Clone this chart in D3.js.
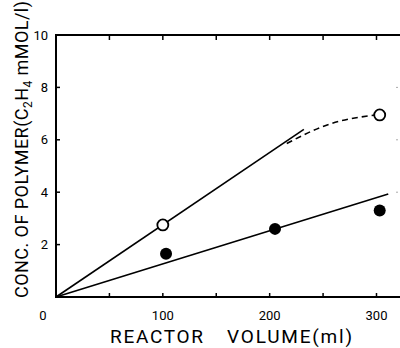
<!DOCTYPE html>
<html>
<head>
<meta charset="utf-8">
<script src="https://cdn.jsdelivr.net/npm/d3@7"></script>
<style>
  body { margin: 0; background: #fff; }
  text { font-family: Roboto, "DejaVu Sans", sans-serif; fill: #000; }
</style>
</head>
<body>
<svg id="chart" width="400" height="348"></svg>
<script>
// values
const openPts = [[100, 2.75], [303, 6.95]];
const filledPts = [[103, 1.65], [205, 2.6], [303, 3.3]];
const lineOpen = [[0, 0], [232, 6.4]];
const lineFilled = [[0, 0], [311, 3.93]];
const dashedOpen = [[216, 5.86], [256, 6.6], [300, 6.95]];
const xTicks = [0, 100, 200, 300];
const xMinor = [50, 150, 250];
const yTicks = [2, 4, 6, 8, 10];

let svg = d3.select('#chart');

let x = d3.scaleLinear().domain([0, 322]).range([56, 400]);
let y = d3.scaleLinear().domain([0, 10]).range([297, 35]);

// frame: left, top, bottom (no right border)
let g = svg.append('g').attr('stroke', '#000').attr('fill', 'none');
g.append('line').attr('x1', x(0)).attr('x2', x(0)).attr('y1', y(10)).attr('y2', y(0)).attr('stroke-width', 2);
g.append('line').attr('x1', x(0) - 1).attr('x2', x(322)).attr('y1', y(10)).attr('y2', y(10)).attr('stroke-width', 2);
g.append('line').attr('x1', x(0) - 1).attr('x2', x(322)).attr('y1', y(0)).attr('y2', y(0)).attr('stroke-width', 2);

// inward ticks
let allX = xTicks.slice(1).concat(xMinor);
g.selectAll('.tb').data(allX).enter().append('line')
  .attr('x1', d => x(d)).attr('x2', d => x(d))
  .attr('y1', y(0)).attr('y2', y(0) - 4).attr('stroke-width', 1.5);
g.selectAll('.tt').data(allX).enter().append('line')
  .attr('x1', d => x(d)).attr('x2', d => x(d))
  .attr('y1', y(10)).attr('y2', y(10) + 5).attr('stroke-width', 1.5);
g.selectAll('.tl').data(yTicks).enter().append('line')
  .attr('x1', x(0)).attr('x2', x(0) + 4)
  .attr('y1', d => y(d)).attr('y2', d => y(d)).attr('stroke-width', 1.5);
g.selectAll('.tr').data(yTicks.slice(1, 4)).enter().append('line')
  .attr('x1', x(322) - 2).attr('x2', x(322) - 4)
  .attr('y1', d => y(d)).attr('y2', d => y(d)).attr('stroke', '#aaa').attr('stroke-width', 1);

// tick labels
svg.selectAll('.xl').data(xTicks).enter().append('text')
  .attr('x', d => d === 0 ? x(d) - 13 : x(d))
  .attr('y', 320)
  .attr('text-anchor', 'middle')
  .attr('font-size', 13)
  .text(d => d);
svg.selectAll('.yl').data(yTicks).enter().append('text')
  .attr('x', 48)
  .attr('y', d => y(d))
  .attr('dy', '0.35em')
  .attr('text-anchor', 'end')
  .attr('font-size', 13)
  .text(d => d);

// axis titles
svg.append('text')
  .attr('x', 110).attr('y', 343)
  .attr('font-size', 19)
  .attr('textLength', 93)
  .attr('lengthAdjust', 'spacing')
  .text('REACTOR');
svg.append('text')
  .attr('x', 227).attr('y', 343)
  .attr('font-size', 19)
  .attr('textLength', 125)
  .attr('lengthAdjust', 'spacing')
  .text('VOLUME(ml)');

let yt = svg.append('text')
  .attr('transform', 'translate(28,298)rotate(-90)')
  .attr('font-size', 18)
  .attr('textLength', 297)
  .attr('lengthAdjust', 'spacing');
yt.append('tspan').text('CONC. OF POLYMER(C');
yt.append('tspan').attr('font-size', 12).attr('dy', 4).text('2');
yt.append('tspan').attr('dy', -4).text('H');
yt.append('tspan').attr('font-size', 12).attr('dy', 4).text('4');
yt.append('tspan').attr('dy', -4).text(' mMOL/l)');

// fitted lines
let line = d3.line().x(d => x(d[0])).y(d => y(d[1]));
let curve = d3.line().x(d => x(d[0])).y(d => y(d[1])).curve(d3.curveMonotoneX);

svg.append('path').attr('d', line(lineOpen)).attr('fill', 'none').attr('stroke', '#000').attr('stroke-width', 1.6);
svg.append('path').attr('d', line(lineFilled)).attr('fill', 'none').attr('stroke', '#000').attr('stroke-width', 1.6);
svg.append('path').attr('d', curve(dashedOpen)).attr('fill', 'none').attr('stroke', '#000')
  .attr('stroke-width', 1.6).attr('stroke-dasharray', '6,4');

// points
svg.selectAll('.op').data(openPts).enter().append('circle')
  .attr('cx', d => x(d[0])).attr('cy', d => y(d[1])).attr('r', 5.5)
  .attr('fill', '#fff').attr('stroke', '#000').attr('stroke-width', 1.8);
svg.selectAll('.fp').data(filledPts).enter().append('circle')
  .attr('cx', d => x(d[0])).attr('cy', d => y(d[1])).attr('r', 6)
  .attr('fill', '#000');
</script>
</body>
</html>
